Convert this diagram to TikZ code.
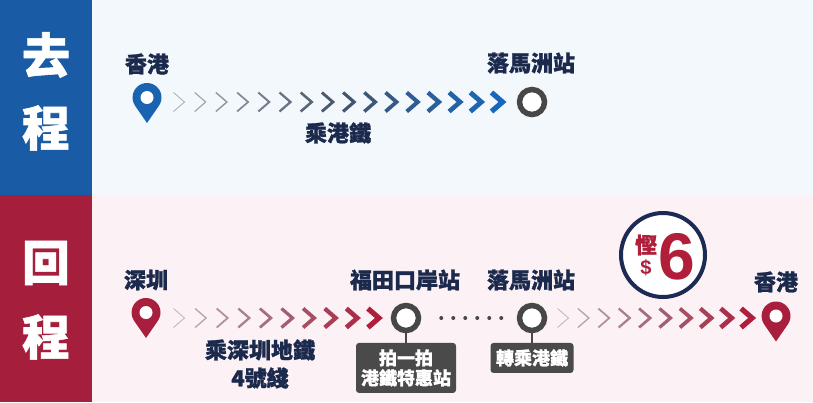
\documentclass[tikz,border=0pt]{standalone}
\usepackage{fontspec}
\newfontfamily\cjk{Noto Sans CJK TC}[BoldFeatures={FakeBold=1.2}]
\newfontfamily\latinbold{Liberation Sans}
\usetikzlibrary{positioning,calc}

\definecolor{bandblue}{HTML}{1A5BA6}
\definecolor{bandred}{HTML}{A51F3D}
\definecolor{topbg}{HTML}{F3F8FC}
\definecolor{botbg}{HTML}{FCF2F5}
\definecolor{navy}{HTML}{1B2A4C}
\definecolor{ringgray}{HTML}{474747}
\definecolor{boxgray}{HTML}{4A4A4A}
\definecolor{pinblue}{HTML}{1A63B0}
\definecolor{pinred}{HTML}{A81F3D}
\definecolor{chevgray}{HTML}{A8ACB2}
\definecolor{chevslate}{HTML}{45546A}
\definecolor{chevblue}{HTML}{1767BE}
\definecolor{chevpale}{HTML}{BDB3B7}
\definecolor{chevmauve}{HTML}{A06676}
\definecolor{chevred}{HTML}{AE1F3E}
\definecolor{savered}{HTML}{B01E3A}
\definecolor{savenavy}{HTML}{1C2A54}

% row of chevrons: first centre, last index, spacing, three colours
\newcommand{\chevrons}[6]{%
  \foreach \i in {0,...,#2}{
    \pgfmathtruncatemacro\pct{200*\i/#2}
    \pgfmathsetmacro\lw{0.8+4.4*\i/#2}
    \ifnum\pct<100 \colorlet{chevc}{#5!\pct!#4}\else
      \pgfmathtruncatemacro\pct{\pct-100}\colorlet{chevc}{#6!\pct!#5}\fi
    \draw[chev, line width=\lw pt, draw=chevc]
      ($(#1)+(#3*\i-5.5,9.5)$) -- ++(11,-9.5) -- ++(-11,-9.5);
  }}

\tikzset{
  lbl/.style={font=\cjk\bfseries\fontsize{22}{24}\selectfont, text=navy, inner sep=0pt},
  band/.style={font=\cjk\bfseries\fontsize{48}{50}\selectfont, text=white, inner sep=0pt},
  station/.style={circle, draw=ringgray, line width=5.5pt, fill=white,
    minimum size=25pt, inner sep=0pt},
  tagbox/.style={fill=boxgray, rounded corners=3pt, text=white, align=center,
    font=\cjk\bfseries\fontsize{18}{20}\selectfont, inner sep=0pt},
  stem/.style={draw=ringgray, line width=2pt},
  chev/.style={line cap=butt, line join=miter},
  badge/.style={circle, draw=savenavy, line width=4pt, fill=white,
    minimum size=84pt, inner sep=0pt},
  pin/.pic={
    \fill[#1] (0,-25.5) -- (-34.65:14.5) arc[start angle=-34.65, end angle=214.65, radius=14.5] -- cycle;
    \fill[white] (0,0) circle[radius=6.5];
  }
}

\begin{document}
\begin{tikzpicture}[x=1pt, y=1pt]
  \useasboundingbox (0,0) rectangle (813,-402);
  \fill[topbg] (0,0) rectangle (813,-195);
  \fill[botbg] (0,-195) rectangle (813,-402);
  \fill[bandblue] (0,0) rectangle (92,-195);
  \fill[bandred] (0,-195) rectangle (92,-402);

  \node[band] (go1) at (46,-55) {去};
  \node[band] (go2) at (46,-128) {程};
  \node[band] (back1) at (46,-263) {回};
  \node[band] (back2) at (46,-337) {程};

  % outbound
  \coordinate (hk1) at (147,-97.5);
  \pic at (hk1) {pin=pinblue};
  \node[station] (lmc1) at (532,-102) {};
  \node[lbl] (hk1l) at (147,-64) {香港};
  \node[lbl] (lmc1l) at (531,-63) {落馬洲站};
  \node[lbl] (rail1) at (338,-133) {乘港鐵};
  \chevrons{$(hk1)+(32,-4.5)$}{15}{21.2}{chevgray}{chevslate}{chevblue}

  % return
  \coordinate (sz) at (146,-312.5);
  \pic at (sz) {pin=pinred};
  \node[station] (fu) at (406,-318) {};
  \node[station] (lmc2) at (532,-318) {};
  \coordinate (hk2) at (776,-316);
  \pic at (hk2) {pin=pinred};

  \node[lbl] (szl) at (146,-280) {深圳};
  \node[lbl] (ful) at (405,-280) {福田口岸站};
  \node[lbl] (lmc2l) at (531,-280) {落馬洲站};
  \node[lbl] (hk2l) at (776,-282) {香港};
  \node[lbl] (metro1) at (260,-350) {乘深圳地鐵};
  \node[lbl] (metro2) at (260,-378) {4號綫};

  \chevrons{$(sz)+(33,-5.5)$}{9}{21.6}{chevpale}{chevmauve}{chevred}
  \chevrons{$(lmc2)+(31,0)$}{9}{20.4}{chevpale}{chevmauve}{chevred}

  \foreach \k in {0,...,5}
    \fill[ringgray] ($(fu.east)+(20+12*\k,0)$) circle[radius=2];

  \node[tagbox, below=9.5pt of fu, minimum width=100pt, minimum height=50pt] (futag) {拍一拍\\港鐵特惠站};
  \node[tagbox, below=9.5pt of lmc2, minimum width=83pt, minimum height=30pt] (lmctag) {轉乘港鐵};
  \draw[stem] (fu.south) -- (futag.north);
  \draw[stem] (lmc2.south) -- (lmctag.north);

  % saving badge
  \node[badge] (save) at (663,-255) {};
  \node[font=\cjk\bfseries\fontsize{22}{22}\selectfont, text=savered, inner sep=0pt] (save1) at (646,-245) {慳};
  \node[font=\latinbold\bfseries\fontsize{20}{20}\selectfont, text=savered, inner sep=0pt] (dollar) at (646,-268) {\$};
  \node[font=\latinbold\bfseries\fontsize{66}{66}\selectfont, text=savered, inner sep=0pt] (six) at (677,-257) {6};
\end{tikzpicture}
\end{document}
